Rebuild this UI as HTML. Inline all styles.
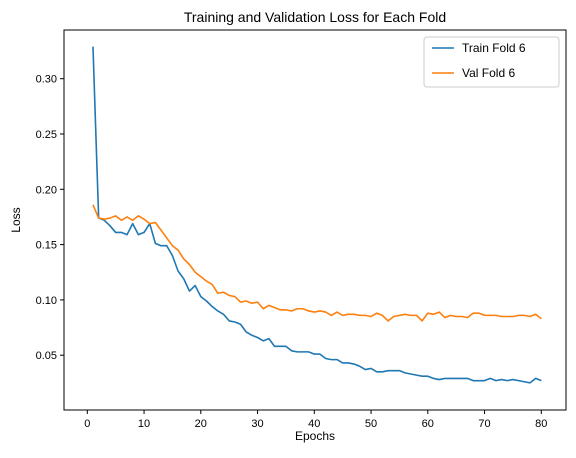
<!DOCTYPE html>
<html><head><meta charset="utf-8"><style>
body{margin:0;background:#fff;}
svg text{font-family:"Liberation Sans","DejaVu Sans",sans-serif;fill:#000;}
</style></head><body>
<svg id="chart" width="576" height="453" xmlns="http://www.w3.org/2000/svg">
<rect x="0" y="0" width="576" height="453" fill="#fff"/>
<text x="315" y="22" font-size="14" text-anchor="middle">Training and Validation Loss for Each Fold</text>
<g id="grid"></g>
<g id="series"></g>
<rect x="64" y="30" width="502" height="380" fill="none" stroke="#000" stroke-width="1"/>
<text x="315" y="440" font-size="12" text-anchor="middle">Epochs</text>
<text x="20" y="220" font-size="12" text-anchor="middle" transform="rotate(-90 20 220)">Loss</text>
<g>
<rect x="424" y="37" width="135" height="50" rx="3" fill="#fff" stroke="#ccc"/>
<line x1="432" y1="48" x2="454" y2="48" stroke="#1f77b4" stroke-width="1.6"/>
<text x="462" y="52" font-size="12">Train Fold 6</text>
<line x1="432" y1="73" x2="454" y2="73" stroke="#ff7f0e" stroke-width="1.6"/>
<text x="462" y="77" font-size="12">Val Fold 6</text>
</g>
</svg>
<script>
const trainLoss=[0.329,0.174,0.172,0.167,0.161,0.161,0.159,0.169,0.159,0.161,0.169,0.151,0.149,0.149,0.140,0.126,0.119,0.108,0.113,0.103,0.099,0.094,0.090,0.087,0.081,0.080,0.078,0.071,0.068,0.066,0.063,0.065,0.058,0.058,0.058,0.054,0.053,0.053,0.053,0.051,0.051,0.047,0.046,0.046,0.043,0.043,0.042,0.040,0.037,0.038,0.035,0.035,0.036,0.036,0.036,0.034,0.033,0.032,0.031,0.031,0.029,0.028,0.029,0.029,0.029,0.029,0.029,0.027,0.027,0.027,0.029,0.027,0.028,0.027,0.028,0.027,0.026,0.025,0.029,0.027];
const valLoss=[0.186,0.174,0.173,0.174,0.176,0.172,0.175,0.172,0.176,0.173,0.169,0.170,0.163,0.156,0.149,0.145,0.137,0.132,0.125,0.121,0.117,0.114,0.106,0.107,0.104,0.103,0.098,0.099,0.097,0.098,0.092,0.095,0.093,0.091,0.091,0.090,0.092,0.092,0.090,0.089,0.090,0.089,0.086,0.089,0.086,0.087,0.087,0.086,0.086,0.085,0.088,0.086,0.081,0.085,0.086,0.087,0.086,0.086,0.081,0.088,0.087,0.089,0.084,0.086,0.085,0.085,0.084,0.088,0.088,0.086,0.086,0.086,0.085,0.085,0.085,0.086,0.086,0.085,0.087,0.083];
const xTicks=[0,10,20,30,40,50,60,70,80];
const yTicks=[0.05,0.10,0.15,0.20,0.25,0.30];
const yTickLabels=["0.05","0.10","0.15","0.20","0.25","0.30"];
const NS="http://www.w3.org/2000/svg";
const xs=e=>87.3+e*5.675;
const ys=v=>410.5-v*1106;
const grid=document.getElementById('grid');
const ser=document.getElementById('series');
function mk(tag,attrs,parent){const el=document.createElementNS(NS,tag);for(const k in attrs)el.setAttribute(k,attrs[k]);parent.appendChild(el);return el;}
xTicks.forEach(t=>{
  const l=mk('line',{x1:xs(t),x2:xs(t),y1:410,y2:414,stroke:'#000'},grid);
  
  
  const tx=mk('text',{x:xs(t),y:427,'font-size':11,'text-anchor':'middle'},grid);
  tx.textContent=t;
  
  
});
yTicks.forEach((t,i)=>{
  const l=mk('line',{x1:60,x2:64,y1:ys(t),y2:ys(t),stroke:'#000'},grid);
  
  
  const tx=mk('text',{x:57,y:ys(t)+4,'font-size':11,'text-anchor':'end'},grid);
  tx.textContent=yTickLabels[i];
  
  
});
function line(data,color,name){
  const d=data.map((v,i)=>(i?'L':'M')+xs(i+1).toFixed(2)+','+ys(v).toFixed(2)).join('');
  const p=mk('path',{d:d,fill:'none',stroke:color,'stroke-width':1.6,'stroke-linejoin':'round'},ser);
  
  
}
line(trainLoss,'#1f77b4','train-loss-line');
line(valLoss,'#ff7f0e','val-loss-line');
</script>
</body></html>
